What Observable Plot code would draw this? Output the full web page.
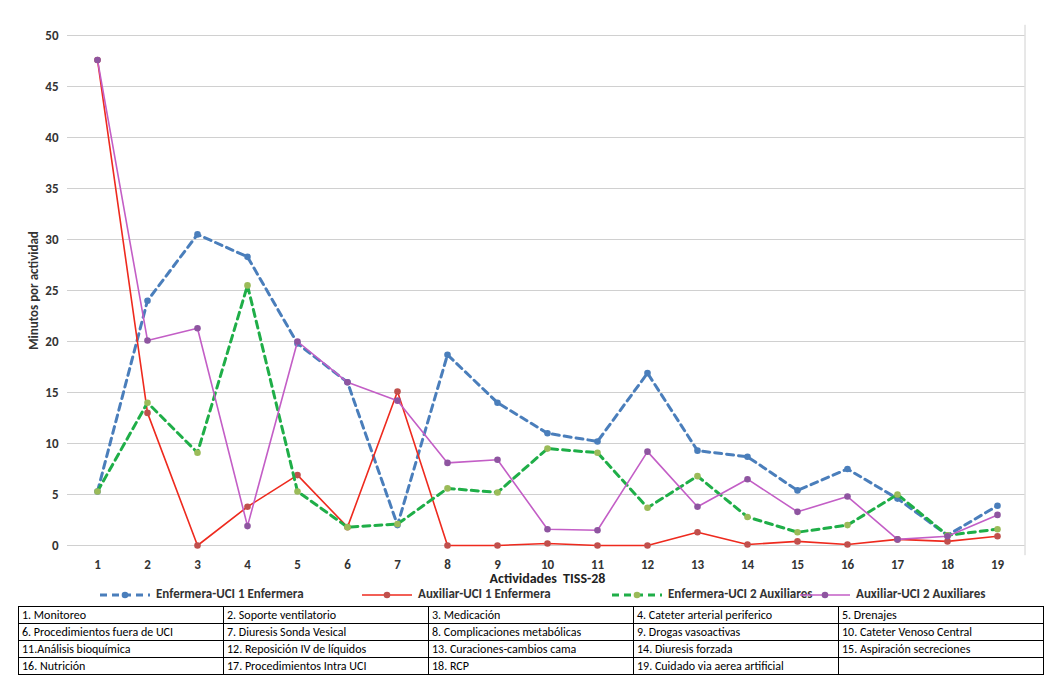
<!DOCTYPE html>
<html><head><meta charset="utf-8">
<script src="https://cdn.jsdelivr.net/npm/d3@7"></script>
<script src="https://cdn.jsdelivr.net/npm/@observablehq/plot@0.6"></script>
<style>
body{margin:0;background:#fff;font-family:Calibri,"Liberation Sans",Arial,sans-serif;}
#wrap{position:relative;width:1044px;height:694px;}
#chart{position:absolute;left:0;top:0;}
.leg{position:absolute;top:586px;font-size:13px;font-weight:bold;color:#333;white-space:nowrap;}
.leg svg{vertical-align:middle;margin-right:6px}
table{position:absolute;left:18px;top:606px;border-collapse:collapse;font-size:12px;}
td{border:1px solid #000;height:16px;padding:0 3px;width:198px;}
</style></head><body>
<div id="wrap"><div id="chart"></div>
<div id="legend"></div>
<table id="tbl"></table>
</div>
<script>
const actividades = d3.range(1, 20);
const yTicks = [0,5,10,15,20,25,30,35,40,45,50];
const enfermera1 = [5.3,24,30.5,28.3,19.8,16,2,18.7,14,11,10.2,16.9,9.3,8.7,5.4,7.5,4.6,1,3.9];
const auxiliar1 = [47.6,13,0,3.8,6.9,1.8,15.1,0,0,0.2,0,0,1.3,0.1,0.4,0.1,0.6,0.4,0.9];
const enfermera2 = [5.3,14,9.1,25.5,5.3,1.8,2.1,5.6,5.2,9.5,9.1,3.7,6.8,2.8,1.3,2,5,1,1.6];
const auxiliar2 = [47.6,20.1,21.3,1.9,20,16,14.2,8.1,8.4,1.6,1.5,9.2,3.8,6.5,3.3,4.8,0.6,0.9,3];
const seriesNames = ["Enfermera-UCI 1 Enfermera","Auxiliar-UCI 1 Enfermera","Enfermera-UCI 2 Auxiliares","Auxiliar-UCI 2 Auxiliares"];
const etiquetas = ["1. Monitoreo","2. Soporte ventilatorio","3. Medicación","4. Cateter arterial periferico","5. Drenajes",
"6. Procedimientos fuera de UCI","7. Diuresis Sonda Vesical","8. Complicaciones metabólicas","9. Drogas vasoactivas","10. Cateter Venoso Central",
"11.Análisis bioquímica","12. Reposición IV de líquidos","13. Curaciones-cambios cama","14. Diuresis forzada","15. Aspiración secreciones",
"16. Nutrición","17. Procedimientos Intra UCI","18. RCP","19. Cuidado via aerea artificial",""];

const styles = [
 {vals:enfermera1, line:"#4a7ebb", dot:"#4a7ebb", dash:"7,5", w:3},
 {vals:auxiliar1, line:"#ee2a1e", dot:"#c0504d", dash:null, w:1.6},
 {vals:enfermera2, line:"#1fae48", dot:"#9bbb59", dash:"7,5", w:3},
 {vals:auxiliar2, line:"#c35ec6", dot:"#8e55a0", dash:null, w:1.6}
];
const font = {fontSize:13,fontWeight:"bold",fill:"#333"};
const marks = [
  Plot.ruleY(yTicks,{stroke:"#d0d0d0",x1:0.4,x2:19.55}),
  Plot.ruleX([19.55],{stroke:"#d0d0d0",y1:-1,y2:51}),
  Plot.text(yTicks,{x:0.22,y:d=>d,text:d=>String(d),textAnchor:"end",...font}),
  Plot.text(actividades,{x:d=>d,y:-1.9,text:d=>String(d),...font}),
  Plot.text(["Minutos por actividad"],{x:-0.28,y:25,rotate:-90,...font}),
  Plot.text(["Actividades  TISS-28"],{x:10,y:-3.25,fontSize:14,fontWeight:"bold",fill:"#222"})
];
styles.forEach(s=>{
  const data = actividades.map((a,i)=>({a,v:s.vals[i]}));
  marks.push(Plot.line(data,{x:"a",y:"v",stroke:s.line,strokeWidth:s.w,strokeDasharray:s.dash}));
  marks.push(Plot.dot(data,{x:"a",y:"v",fill:s.dot,r:3.3}));
});
const p = Plot.plot({width:1044,height:600,marginLeft:97,marginRight:47,marginTop:35,marginBottom:55,
  x:{domain:[1,19],axis:null}, y:{domain:[0,50],axis:null},
  style:{fontFamily:"Calibri,'Liberation Sans',Arial,sans-serif"}, marks});
p.style.overflow="visible";
document.getElementById("chart").appendChild(p);

const legX=[100,362,612,800];
const leg=document.getElementById("legend");
styles.forEach((s,i)=>{
  const d=document.createElement("div");d.className="leg";d.style.left=legX[i]+"px";
  d.innerHTML=`<svg width="50" height="10"><line x1="0" x2="50" y1="5" y2="5" stroke="${s.line}" stroke-width="${s.w}" ${s.dash?`stroke-dasharray="${s.dash}"`:""}/><circle cx="25" cy="5" r="3.3" fill="${s.dot}"/></svg>${seriesNames[i]}`;
  leg.appendChild(d);
});
const tbl=document.getElementById("tbl");
for(let r=0;r<4;r++){const tr=document.createElement("tr");
  for(let c=0;c<5;c++){const td=document.createElement("td");td.textContent=etiquetas[r*5+c];tr.appendChild(td);}
  tbl.appendChild(tr);}
</script></body></html>
